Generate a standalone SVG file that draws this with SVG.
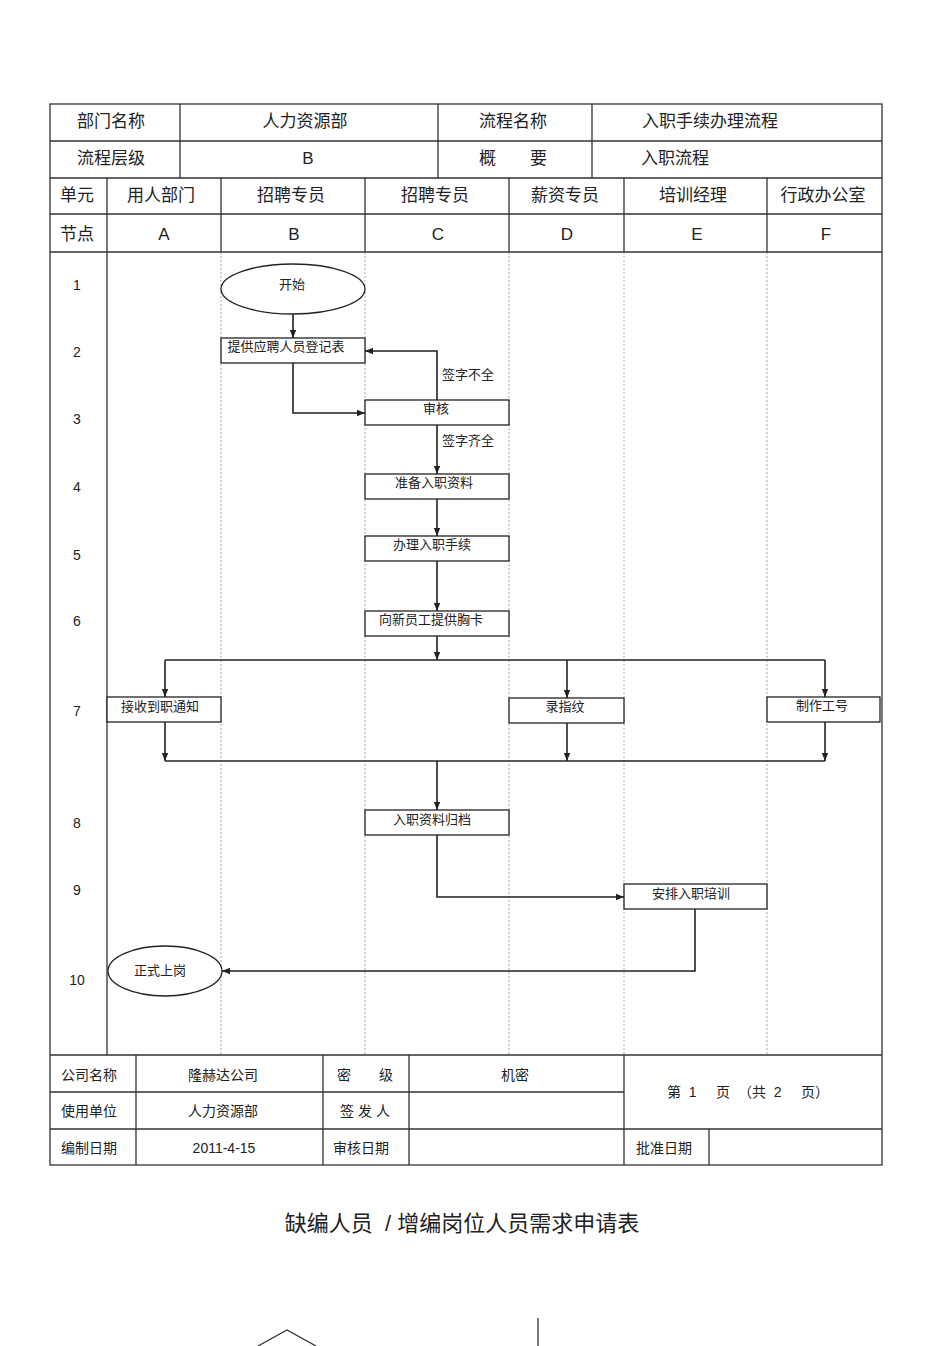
<svg xmlns="http://www.w3.org/2000/svg" width="950" height="1346" viewBox="0 0 950 1346">
<defs>
<marker id="ar" viewBox="0 0 10 10" refX="10" refY="5" markerWidth="8" markerHeight="8" orient="auto" markerUnits="userSpaceOnUse"><path d="M0,1 L10,5 L0,9 z" fill="#222"/></marker>
<style>
text{font-family:"Liberation Sans","Noto Sans CJK SC",sans-serif;fill:#222}
.t{font-size:17px;text-anchor:middle}
.s{font-size:13px;text-anchor:middle}
.n{font-size:14px;text-anchor:middle}
.g{stroke:#333;stroke-width:1.3;fill:none}
.d{stroke:#aaa;stroke-width:1;stroke-dasharray:2,2;fill:none}
.b{fill:#fff;stroke:#222;stroke-width:1.3}
.c{stroke:#222;stroke-width:1.6;fill:none}
</style>
</defs>
<rect width="950" height="1346" fill="#fff"/>
<g id="grid">
<path class="d" d="M221,252V1055M365,252V1055M509,252V1055M624,252V1055M767,252V1055"/>
<rect class="g" x="50" y="104" width="832" height="1061"/>
<path class="g" d="M50,141H882M50,178H882M50,214H882M50,252H882M50,1055H882M50,1092H624M50,1129H882
M180,104V178M438,104V178M592,104V178
M107,178V1055M221,178V252M365,178V252M509,178V252M624,178V252M767,178V252
M136,1055V1165M323,1055V1165M409,1055V1165M624,1055V1165M709,1129V1165"/>
<text class="t" x="111" y="127">部门名称</text><text class="t" x="305" y="127">人力资源部</text>
<text class="t" x="513" y="127">流程名称</text><text class="t" x="710" y="127">入职手续办理流程</text>
<text class="t" x="111" y="164">流程层级</text><text class="t" x="308" y="164">B</text>
<text class="t" x="513" y="164">概　　要</text><text class="t" x="675" y="164">入职流程</text>
<text class="t" x="77" y="201">单元</text><text class="t" x="161" y="201">用人部门</text><text class="t" x="291" y="201">招聘专员</text>
<text class="t" x="435" y="201">招聘专员</text><text class="t" x="565" y="201">薪资专员</text><text class="t" x="693" y="201">培训经理</text><text class="t" x="823" y="201">行政办公室</text>
<text class="t" x="77" y="240">节点</text><text class="t" x="164" y="240">A</text><text class="t" x="294" y="240">B</text>
<text class="t" x="438" y="240">C</text><text class="t" x="567" y="240">D</text><text class="t" x="697" y="240">E</text><text class="t" x="826" y="240">F</text>
<text class="n" x="77" y="290">1</text><text class="n" x="77" y="357">2</text><text class="n" x="77" y="424">3</text>
<text class="n" x="77" y="492">4</text><text class="n" x="77" y="560">5</text><text class="n" x="77" y="626">6</text>
<text class="n" x="77" y="716">7</text><text class="n" x="77" y="828">8</text><text class="n" x="77" y="895">9</text><text class="n" x="77" y="985">10</text>
<text class="n" x="89" y="1080">公司名称</text><text class="n" x="223" y="1080">隆赫达公司</text><text class="n" x="365" y="1080">密　　级</text><text class="n" x="515" y="1080">机密</text>
<text class="n" x="89" y="1116">使用单位</text><text class="n" x="223" y="1116">人力资源部</text><text class="n" x="365" y="1116">签 发 人</text>
<text class="n" x="748" y="1097" xml:space="preserve">第  1     页  （共  2     页）</text>
<text class="n" x="89" y="1153">编制日期</text><text class="n" x="224" y="1153">2011-4-15</text><text class="n" x="361" y="1153">审核日期</text><text class="n" x="664" y="1153">批准日期</text>
</g>
<g id="connectors">
<path class="c" marker-end="url(#ar)" d="M293,314V338"/>
<path class="c" marker-end="url(#ar)" d="M293,363V413H365"/>
<path class="c" marker-end="url(#ar)" d="M437,400V351H365"/>
<path class="c" marker-end="url(#ar)" d="M437,425V474"/>
<path class="c" marker-end="url(#ar)" d="M437,499V536"/>
<path class="c" marker-end="url(#ar)" d="M437,561V611"/>
<path class="c" marker-end="url(#ar)" d="M437,636V660"/>
<path class="c" d="M165,660H825"/>
<path class="c" marker-end="url(#ar)" d="M165,660V697"/>
<path class="c" marker-end="url(#ar)" d="M567,660V698"/>
<path class="c" marker-end="url(#ar)" d="M825,660V697"/>
<path class="c" marker-end="url(#ar)" d="M165,722V761"/>
<path class="c" marker-end="url(#ar)" d="M567,723V761"/>
<path class="c" marker-end="url(#ar)" d="M825,722V761"/>
<path class="c" d="M165,761H825"/>
<path class="c" marker-end="url(#ar)" d="M437,761V810"/>
<path class="c" marker-end="url(#ar)" d="M437,835V897H624"/>
<path class="c" marker-end="url(#ar)" d="M695,909V971H222"/>
<text class="s" x="468" y="379">签字不全</text>
<text class="s" x="468" y="445">签字齐全</text>
</g>
<g id="n1"><ellipse class="b" cx="293" cy="289" rx="72" ry="25"/><text class="s" x="292" y="289">开始</text></g>
<g id="n2"><rect class="b" x="221" y="338" width="144" height="25"/><text class="s" x="286" y="351">提供应聘人员登记表</text></g>
<g id="n3"><rect class="b" x="365" y="400" width="144" height="25"/><text class="s" x="436" y="413">审核</text></g>
<g id="n4"><rect class="b" x="365" y="474" width="144" height="25"/><text class="s" x="434" y="487">准备入职资料</text></g>
<g id="n5"><rect class="b" x="365" y="536" width="144" height="25"/><text class="s" x="432" y="549">办理入职手续</text></g>
<g id="n6"><rect class="b" x="365" y="611" width="144" height="25"/><text class="s" x="431" y="624">向新员工提供胸卡</text></g>
<g id="n7a"><rect class="b" x="107" y="697" width="114" height="25"/><text class="s" x="160" y="711">接收到职通知</text></g>
<g id="n7b"><rect class="b" x="509" y="698" width="115" height="25"/><text class="s" x="565" y="711">录指纹</text></g>
<g id="n7c"><rect class="b" x="767" y="697" width="113" height="25"/><text class="s" x="822" y="710">制作工号</text></g>
<g id="n8"><rect class="b" x="365" y="810" width="144" height="25"/><text class="s" x="432" y="824">入职资料归档</text></g>
<g id="n9"><rect class="b" x="624" y="884" width="143" height="25"/><text class="s" x="691" y="898">安排入职培训</text></g>
<g id="n10"><ellipse class="b" cx="165" cy="971" rx="57" ry="25"/><text class="s" x="160" y="975">正式上岗</text></g>
<text x="462" y="1231" style="font-size:22px;text-anchor:middle" xml:space="preserve">缺编人员  / 增编岗位人员需求申请表</text>
<path class="g" d="M258,1346L287,1330L316,1346M538,1318V1346"/>
</svg>
